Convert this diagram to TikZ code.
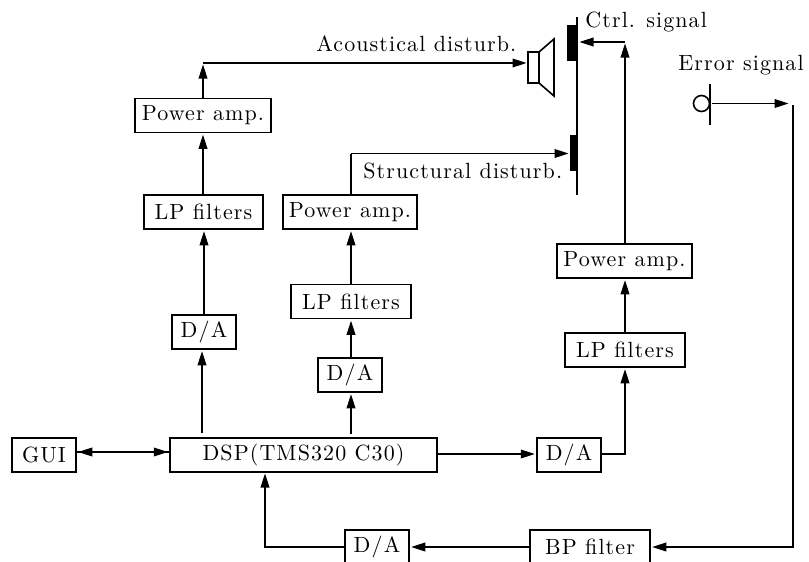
\documentclass[tikz,border=0pt]{standalone}
\usepackage{fontspec}
\setmainfont{Latin Modern Roman}[LetterSpace=5]
\usetikzlibrary{arrows.meta}
\tikzset{
    blockbox/.style={draw, line width=0.75pt, minimum height=17pt, inner sep=0pt, font=\fontsize{11}{13}\selectfont},
    wirelabel/.style={inner sep=0pt, font=\fontsize{11}{13}\selectfont},
    wire/.style={line width=0.55pt},
    sig/.style={wire, -{Triangle[length=7pt,width=4.4pt]}, shorten >=0.75pt},
    solid part/.style={line width=0.8pt}
}
\begin{document}
\begin{tikzpicture}[x=0.5pt, y=-0.5pt]
    \clip (0,0) rectangle (809,562);
    \node [blockbox, minimum width=32pt] (gui) at (44,455) {GUI};
    \node [blockbox, minimum width=133.5pt] (dsp) at (303.5,455) {DSP(TMS320 C30)};
    \node [blockbox, minimum width=32pt] (daright) at (569,455) {D/A};
    \node [blockbox, minimum width=32pt] (dabottom) at (377,547) {D/A};
    \node [blockbox, minimum width=60pt] (bp) at (590,547) {BP filter};
    \node [blockbox, minimum width=32pt] (daone) at (204,332) {D/A};
    \node [blockbox, minimum width=32pt] (datwo) at (350,375) {D/A};
    \node [blockbox, minimum width=59.5pt] (lpone) at (203.5,212) {LP filters};
    \node [blockbox, minimum width=60pt] (lptwo) at (351,301.5) {LP filters};
    \node [blockbox, minimum width=60pt] (lpthree) at (625,350) {LP filters};
    \node [blockbox, minimum width=68pt] (ampone) at (203,115.5) {Power amp.};
    \node [blockbox, minimum width=67pt] (amptwo) at (350,212) {Power amp.};
    \node [blockbox, minimum width=67.5pt] (ampthree) at (624.5,261) {Power amp.};

    \node [wirelabel, anchor=base west] (acoustic) at (316,51) {Acoustical disturb.};
    \node [wirelabel, anchor=base west] (structural) at (363,178) {Structural disturb.};
    \node [wirelabel, anchor=base west] (ctrl) at (585,27) {Ctrl. signal};
    \node [wirelabel, anchor=base west] (error) at (678,70) {Error signal};

    \draw [solid part] (577,17) -- (577,195);
    \fill (567,25) rectangle (577,61);
    \fill (570,135) rectangle (577,171);
    \draw [solid part] (528,52) rectangle (539,83);
    \draw [solid part] (539,52) -- (554,39) -- (554,96) -- (539,83);
    \draw [solid part] (710,84) -- (710,125);
    \draw [solid part] (701.5,103.5) circle (8);

    \coordinate (padtop) at (578,42);
    \coordinate (padlow) at (570,153.5);
    \coordinate (horn) at (528,63);
    \coordinate (micout) at (712,103.5);
    \coordinate (micend) at (790,103.5);
    \coordinate (errtop) at (793,105);
    \coordinate (turnone) at (203,63);
    \coordinate (turntwo) at (351,153.5);
    \coordinate (turnthree) at (625,42);
    \coordinate (dspone) at (202,433);
    \coordinate (dsptwo) at (351,434);
    \coordinate (dspfeed) at (265,472);

    \draw [sig] (ampone.north) -- (turnone);
    \draw [sig] (turnone) -- (horn);
    \draw [sig] (lpone.north -| ampone.north) -- (ampone.south);
    \draw [sig] (daone.north) -- (daone.north |- lpone.south);
    \draw [sig] (dspone) -- (dspone |- daone.south);
    \draw [wire] (turntwo |- amptwo.north) -- (turntwo);
    \draw [sig] (turntwo) -- (padlow);
    \draw [sig] (lptwo.north) -- (lptwo.north |- amptwo.south);
    \draw [sig] (lptwo.south |- datwo.north) -- (lptwo.south);
    \draw [sig] (dsptwo) -- (dsptwo |- datwo.south);
    \draw [sig] ([yshift=1.5pt]gui.east) -- ([yshift=1.5pt]dsp.west);
    \draw [sig] ([yshift=1.5pt]dsp.west) -- ([yshift=1.5pt]gui.east);
    \draw [sig] ([yshift=0.5pt]dsp.east) -- ([yshift=0.5pt]daright.west);
    \draw [sig] ([yshift=0.5pt]daright.east) -| (lpthree.south);
    \draw [sig] (lpthree.north) -- (lpthree.north |- ampthree.south);
    \draw [sig] (turnthree |- ampthree.north) -- (turnthree);
    \draw [sig] (turnthree) -- (padtop);
    \draw [sig] (micout) -- (micend);
    \draw [sig] (errtop) |- (bp.east);
    \draw [sig] (bp.west) -- (dabottom.east);
    \draw [sig] (dabottom.west) -| (dspfeed);
\end{tikzpicture}
\end{document}
